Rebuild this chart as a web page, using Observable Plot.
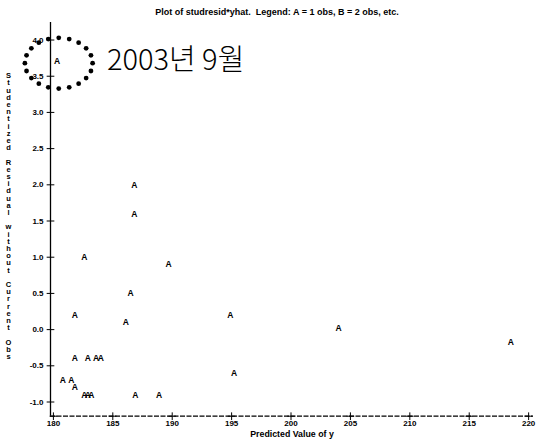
<!DOCTYPE html>
<html>
<head>
<meta charset="utf-8">
<script src="https://cdn.jsdelivr.net/npm/d3@7"></script>
<script src="https://cdn.jsdelivr.net/npm/@observablehq/plot@0.6"></script>
<style>
  html, body { margin: 0; padding: 0; background: #fff; }
  #chart svg { display: block; }
</style>
</head>
<body>
<div id="chart"></div>
<script>
// ---- data ----
const titleText = "Plot of studresid*yhat.  Legend: A = 1 obs, B = 2 obs, etc.";
const xLabel = "Predicted Value of y";
const yLabel = "Studentized Residual without Current Obs";
const annotationText = "2003년 9월";

const xTicks = [180, 185, 190, 195, 200, 205, 210, 215, 220];
const yTicks = [-1.0, -0.5, 0.0, 0.5, 1.0, 1.5, 2.0, 2.5, 3.0, 3.5, 4.0];

const yhat = [180.3, 186.8, 186.8, 182.6, 189.7, 186.5, 181.8, 194.9, 186.1, 204.0, 218.5,
              181.8, 182.9, 183.6, 184.0, 195.2, 180.8, 181.5, 181.8, 182.6, 182.9, 183.2, 186.9, 188.9];
const studresid = [3.7, 2.0, 1.6, 1.0, 0.9, 0.5, 0.2, 0.2, 0.1, 0.02, -0.17,
                   -0.4, -0.4, -0.4, -0.4, -0.6, -0.7, -0.7, -0.8, -0.9, -0.9, -0.9, -0.9, -0.9];
const plotSymbol = "A";

const xDomain = [179.756, 220.41];
const yDomain = [-1.196, 4.242];

// circled (highlighted) observation
const highlightIndex = 0;

const data = yhat.map((x, i) => ({yhat: x, studresid: studresid[i]}));
const hl = data[highlightIndex];

// dotted ellipse annotation around the highlighted observation
const ellipseRx = 2.85, ellipseRy = 0.35, ellipseN = 20;
const ellipse = d3.range(ellipseN).map(k => {
  const t = (2 * Math.PI * k) / ellipseN;
  return {x: hl.yhat + 0.15 + ellipseRx * Math.cos(t), y: hl.studresid - 0.02 + ellipseRy * Math.sin(t)};
});

const font = "'Liberation Sans', Arial, Helvetica, sans-serif";

const chart = Plot.plot({
  width: 539,
  height: 442,
  marginLeft: 50,
  marginRight: 6,
  marginTop: 22,
  marginBottom: 26.3,
  style: {background: "#fff", fontFamily: font, color: "#000"},
  x: {domain: xDomain},
  y: {domain: yDomain},
  marks: [
    // axis lines
    Plot.ruleX([xDomain[0]], {stroke: "#000", strokeWidth: 1.3}),
    Plot.ruleY([yDomain[0]], {stroke: "#000", strokeWidth: 1.2, strokeDasharray: "5,1.5"}),
    // "+" tick marks
    Plot.dot(yTicks, {x: () => xDomain[0], y: d => d, symbol: "plus", r: 2.6, stroke: "#000", strokeWidth: 1}),
    Plot.dot(xTicks, {x: d => d, y: () => yDomain[0], symbol: "plus", r: 2.6, stroke: "#000", strokeWidth: 1}),
    // tick labels
    Plot.axisY({ticks: yTicks, tickSize: 0, tickPadding: 7, tickFormat: d => d.toFixed(1),
                fontSize: 8, fontWeight: "bold", label: null}),
    Plot.axisX({ticks: xTicks, tickSize: 0, tickPadding: 4, tickFormat: d => String(d),
                fontSize: 8, fontWeight: "bold", label: null}),
    // axis titles
    Plot.text([xLabel], {frameAnchor: "bottom", dy: 21, fontSize: 8.8, fontWeight: "bold"}),
    Plot.text([yLabel.split("").join("\n")], {frameAnchor: "left", dx: -42, dy: -3,
               fontSize: 7.5, fontWeight: "bold", lineHeight: 0.96, textAnchor: "middle"}),
    // title
    Plot.text([titleText], {frameAnchor: "top", dy: -14, dx: -15, fontSize: 9, fontWeight: "bold"}),
    // observations
    Plot.text(data, {x: "yhat", y: "studresid", text: () => plotSymbol, fontSize: 8.5, fontWeight: "bold"}),
    // annotation
    Plot.dot(ellipse, {x: "x", y: "y", r: 2.4, fill: "#000"}),
    Plot.text([hl], {x: "yhat", y: "studresid", text: () => annotationText, textAnchor: "start",
               dx: 50, dy: -1, fontSize: 29, fontWeight: 300,
               fontFamily: "'Noto Sans CJK KR', 'Noto Sans', sans-serif"})
  ]
});

document.getElementById("chart").appendChild(chart);
</script>
</body>
</html>
